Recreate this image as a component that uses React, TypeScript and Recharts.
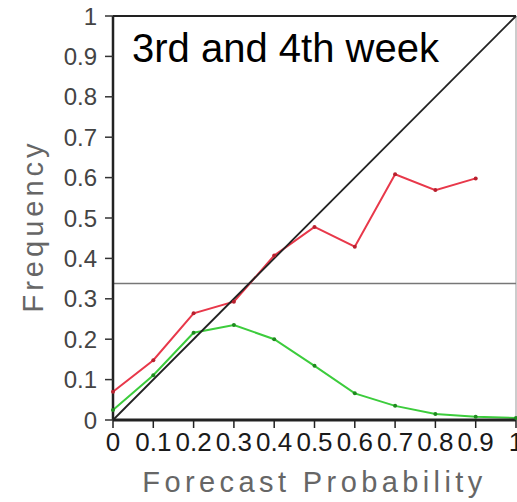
import React from "react";
import {
  LineChart,
  Line,
  XAxis,
  YAxis,
  ReferenceLine,
  Label,
} from "recharts";

// forecast probability bins
const probBins = [0, 0.1, 0.2, 0.3, 0.4, 0.5, 0.6, 0.7, 0.8, 0.9, 1];
// observed frequency (red), no value in the last bin
const observedFreq = [0.07, 0.148, 0.264, 0.293, 0.407, 0.478, 0.429, 0.608, 0.569, 0.598];
// forecast distribution (green)
const forecastShare = [0.025, 0.111, 0.216, 0.235, 0.2, 0.134, 0.066, 0.035, 0.015, 0.008, 0.005];
const climatology = 0.338;

const axisTicks = [0, 0.1, 0.2, 0.3, 0.4, 0.5, 0.6, 0.7, 0.8, 0.9, 1];

const chartData = probBins.map((p, i) => ({
  prob: p,
  observed: observedFreq[i],
  share: forecastShare[i],
}));

const FONT = '"Liberation Sans", Arial, sans-serif';

const YTitle = ({ viewBox }: any) => {
  const cx = 43;
  const cy = viewBox.y + viewBox.height / 2 + 8;
  return (
    <text
      x={cx}
      y={cy}
      transform={`rotate(-90 ${cx} ${cy})`}
      textAnchor="middle"
      fontFamily={FONT}
      fontSize={29}
      letterSpacing={4}
      fill="#666"
    >
      Frequency
    </text>
  );
};

export default function App() {
  return (
    <div
      style={{
        position: "absolute",
        left: 0,
        top: 0,
        width: 517,
        height: 502,
        overflow: "hidden",
        background: "#fff",
      }}
    >
      <LineChart
        width={520}
        height={502}
        data={chartData}
        margin={{ top: 16, right: 4, bottom: 0, left: 0 }}
      >
        <XAxis
          dataKey="prob"
          type="number"
          domain={[0, 1]}
          ticks={axisTicks}
          interval={0}
          height={82}
          tickSize={8}
          tickMargin={5}
          axisLine={{ stroke: "#222", strokeWidth: 3 }}
          tickLine={{ stroke: "#222", strokeWidth: 1.5 }}
          tick={{ fill: "#1a1a1a", fontSize: 26, fontFamily: FONT }}
        >
          <Label
            value="Forecast Probability"
            position="insideBottom"
            offset={10}
            fill="#666"
            fontSize={29}
            fontFamily={FONT}
            letterSpacing={4.4}
          />
        </XAxis>
        <YAxis
          type="number"
          domain={[0, 1]}
          ticks={axisTicks}
          interval={0}
          width={113}
          tickSize={8}
          tickMargin={8}
          axisLine={{ stroke: "#222", strokeWidth: 2.5 }}
          tickLine={{ stroke: "#333", strokeWidth: 1.5 }}
          tick={{ fill: "#444", fontSize: 24, fontFamily: FONT }}
        >
          <Label content={<YTitle />} />
        </YAxis>
        <ReferenceLine y={1} stroke="#222" strokeWidth={2} />
        <ReferenceLine x={1} stroke="#999" strokeWidth={1} />
        <ReferenceLine y={climatology} stroke="#777" strokeWidth={1.5} />
        <Line
          dataKey="share"
          type="linear"
          stroke="#3ccc3c"
          strokeWidth={2}
          dot={{ r: 2, fill: "#1e8a1e", stroke: "none" }}
          isAnimationActive={false}
        />
        <Line
          dataKey="observed"
          type="linear"
          stroke="#e8384a"
          strokeWidth={2}
          dot={{ r: 2, fill: "#b8202e", stroke: "none" }}
          isAnimationActive={false}
        />
        <ReferenceLine
          segment={[
            { x: 0, y: 0 },
            { x: 1, y: 1 },
          ]}
          stroke="#222"
          strokeWidth={1.8}
        />
      </LineChart>
      <div
        style={{
          position: "absolute",
          left: 132,
          top: 28,
          fontFamily: FONT,
          fontSize: 40,
          lineHeight: "40px",
          color: "#000",
          whiteSpace: "nowrap",
        }}
      >
        3rd and 4th week
      </div>
    </div>
  );
}
